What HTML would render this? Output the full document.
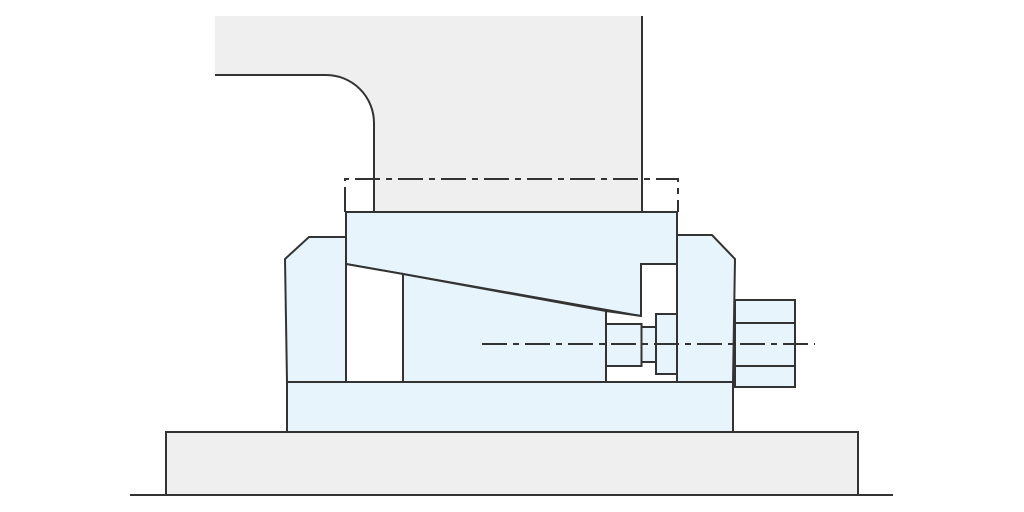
<!DOCTYPE html>
<html><head><style>html,body{margin:0;padding:0;background:#fff}svg{display:block}</style></head>
<body>
<svg width="1024" height="512" viewBox="0 0 1024 512" xmlns="http://www.w3.org/2000/svg">
<g stroke="#333" stroke-width="2" fill="none" stroke-linejoin="miter">
<path d="M215,16 H642 V212 H374 V123 A48,48 0 0 0 326,75 H215 Z" fill="#efefef" stroke="none"/>
<path d="M215,75 H326 A48,48 0 0 1 374,123 V212"/>
<path d="M642,16 V212"/>
<rect x="166" y="432" width="692" height="63" fill="#efefef"/>
<line x1="130" y1="495" x2="893" y2="495"/>
<rect x="287" y="382" width="446" height="50" fill="#e8f4fc"/>
<path d="M287,382 L285,259 L309,237 L346,237 V382" fill="#e8f4fc"/>
<path d="M677,382 V235 H712 L735,259 L733,382" fill="#e8f4fc"/>
<path d="M346,212 H677 V264 H641 V316 L346,264 Z" fill="#e8f4fc"/>
<path d="M346,264 L403,274 V382 H346 Z" fill="#fff"/>
<path d="M606,311 L641,316 V264 H677 V382 H606 Z" fill="#fff"/>
<path d="M403,274 L606,311 V382 H403 Z" fill="#e8f4fc"/>
<rect x="606" y="324" width="35.5" height="42" fill="#e8f4fc"/>
<rect x="641.5" y="327" width="14.5" height="35" fill="#e8f4fc"/>
<rect x="656" y="314" width="21" height="60" fill="#e8f4fc"/>
<rect x="735" y="300" width="60" height="87" fill="#e8f4fc"/>
<line x1="735" y1="323" x2="795" y2="323"/>
<line x1="735" y1="366" x2="795" y2="366"/>
<line x1="287" y1="382" x2="733" y2="382"/>
<g stroke-dasharray="25 6 6 6">
<path d="M345,212 V179 H678 V212"/>
<line x1="482" y1="344" x2="815" y2="344"/>
</g>
</g>
</svg>
</body></html>
